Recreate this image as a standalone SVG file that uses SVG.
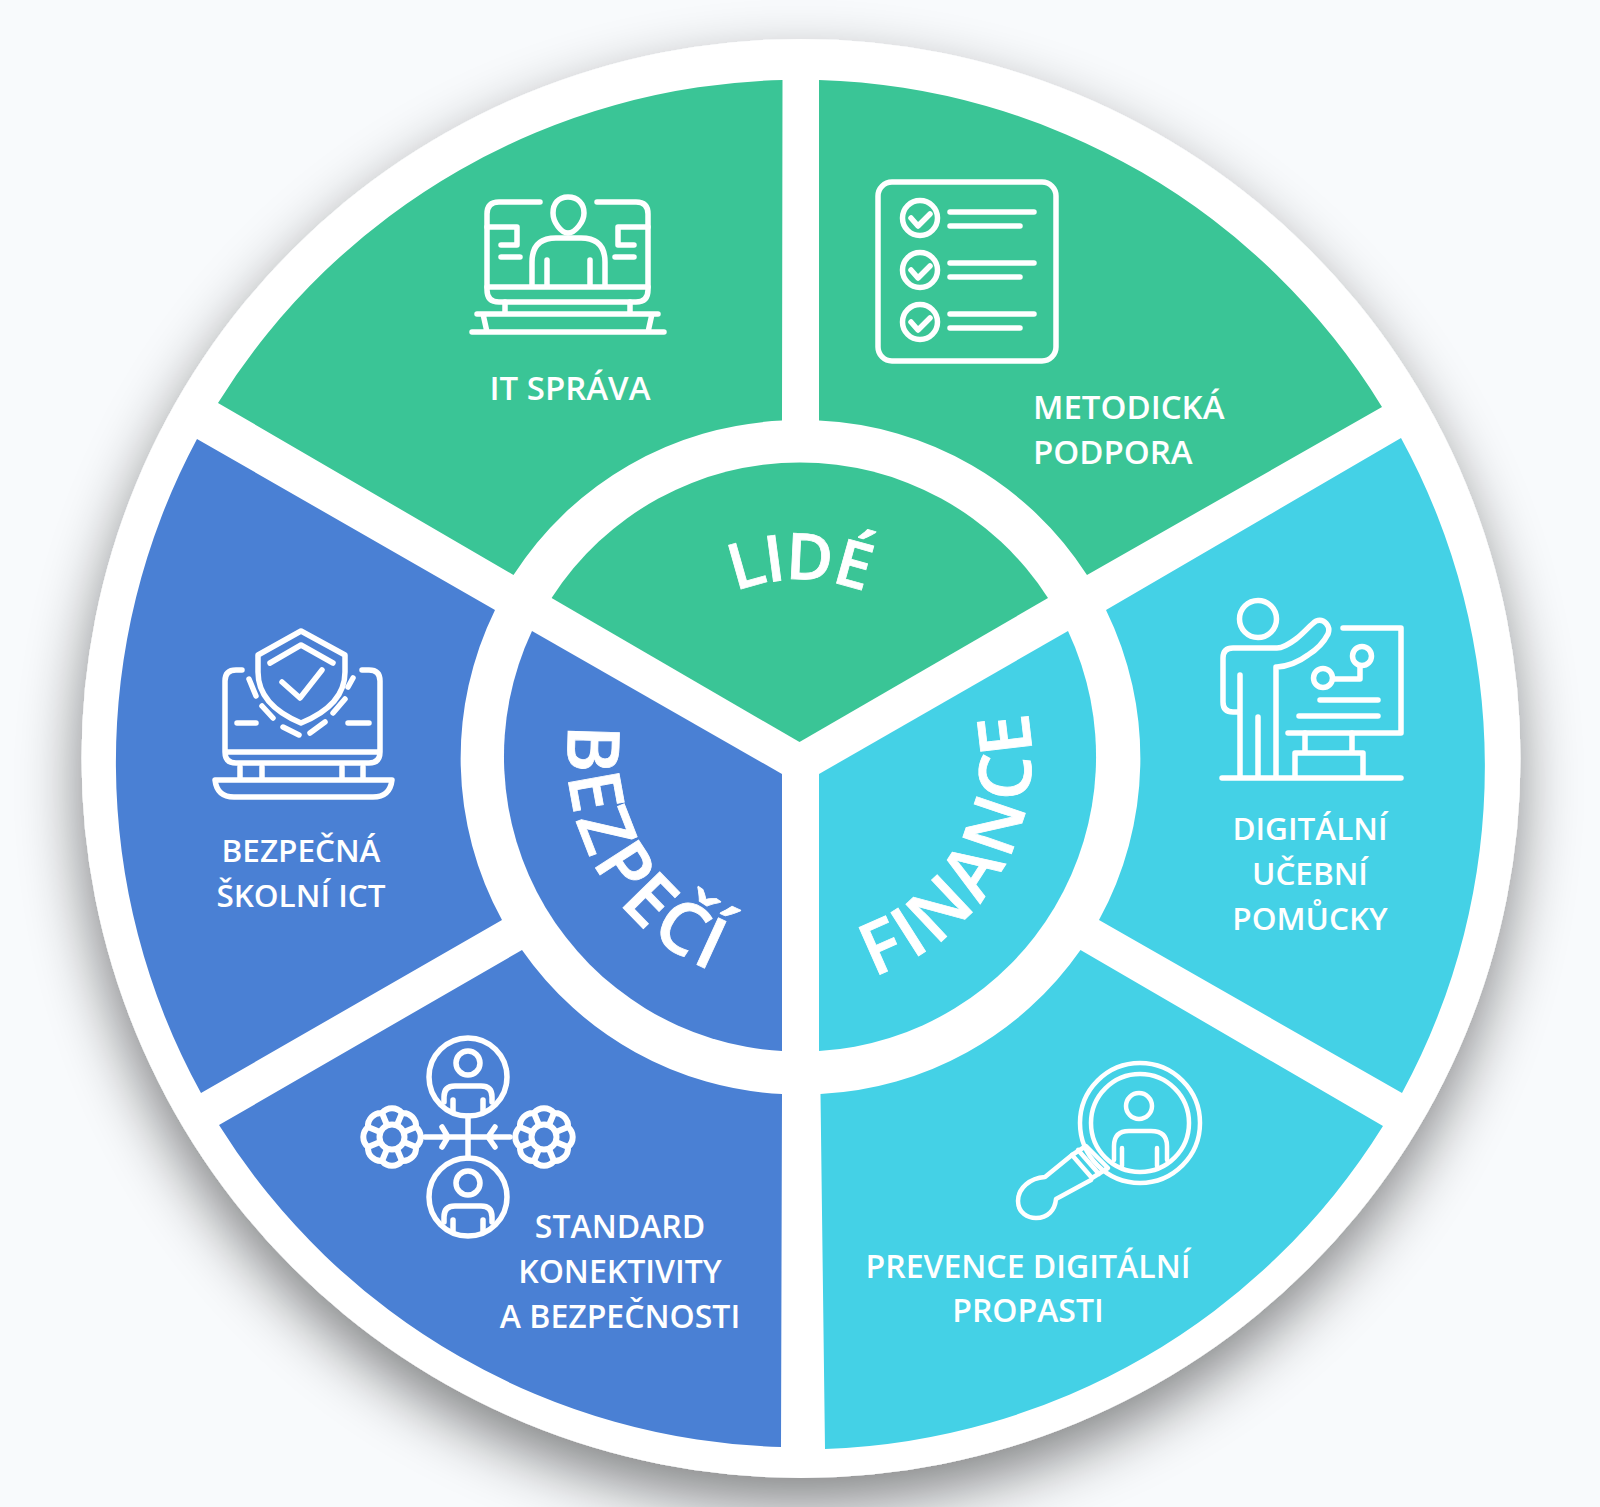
<svg xmlns="http://www.w3.org/2000/svg" xmlns:xlink="http://www.w3.org/1999/xlink" width="1600" height="1507" viewBox="0 0 1600 1507">
<style>
.g{fill:#3AC596}.b{fill:#4A80D4}.c{fill:#44D1E6}
.lab{font-family:"Open Sans","Liberation Sans",sans-serif;font-weight:600;font-size:32px;fill:#fff;text-anchor:middle}
.big{font-size:33px}
.sm{font-size:31.500px}
.lft{text-anchor:start}
.ttl{font-family:"Open Sans","Liberation Sans",sans-serif;font-weight:600;font-size:72px;fill:#fff;stroke:#fff;stroke-width:.8px;text-anchor:middle}
.ic{fill:none;stroke:#fff;stroke-width:5.500;stroke-linecap:round;stroke-linejoin:round}
.th{stroke-width:4.500}
</style>
<defs>
<filter id="sh" x="-15%" y="-15%" width="130%" height="130%">
<feGaussianBlur in="SourceAlpha" stdDeviation="30" result="a"/>
<feOffset in="a" dx="-2" dy="26" result="o"/>
<feFlood flood-color="#000" flood-opacity=".47"/>
<feComposite in2="o" operator="in"/>
<feMerge><feMergeNode/><feMergeNode in="SourceGraphic"/></feMerge>
</filter>
<path id="p-lide" d="M646.2 668A177 177 0 0 1 952.8 668"/>
<path id="p-fin" d="M798.5 988.5A232 232 0 0 0 1000.9 641.4"/>
<path id="p-bez" d="M595.6 645.8A232 232 0 0 0 805.5 988.4"/>
<g id="gear" class="ic" style="stroke-width:6">
<path d="M24 10A13 13 0 0 1 10 24A13 13 0 0 1-10 24A13 13 0 0 1-24 10A13 13 0 0 1-24-10A13 13 0 0 1-10-24A13 13 0 0 1 10-24A13 13 0 0 1 24-10A13 13 0 0 1 24 10Z"/>
<circle r="12.500"/>
<path d="M12 5L24 10M5 12L10 24M-5 12L-10 24M-12 5L-24 10M-12-5L-24-10M-5-12L-10-24M5-12L10-24M12-5L24-10"/>
</g>
<g id="person" class="ic">
<circle cx="468" cy="1063" r="12"/>
<circle cx="468" cy="1077" r="39"/>
<path d="M444 1102V1097Q444 1086 455 1086H481Q492 1086 492 1097V1102M453 1100V1112M483 1100V1112"/>
</g>
</defs>
<rect width="1600" height="1507" fill="#F8FAFC"/>
<circle id="disc" cx="801" cy="758.5" r="719.5" fill="#fff" filter="url(#sh)"/>

<g id="seg-it"><path class="g" d="M782.5 80A685 685 0 0 0 218 403L513.5 575A337 337 0 0 1 782 420.6Z"/>
<g class="ic">
<path d="M540 202H499Q487 202 487 214V290Q487 302 499 302H636Q648 302 648 290V214Q648 202 636 202H597"/>
<path d="M568 197C558 197 553 204 553 213C553 222 561 233 568 233C575 233 584 222 584 213C584 204 578 197 568 197Z"/>
<path d="M532 285V262Q532 238 556 238H581Q605 238 605 262V285M547 260V285M590 260V285M487 287H648"/>
<path d="M487 227H517V245H501M501 257H520M648 227H618V245H634M634 257H615"/>
<path d="M505 302V314M630 302V314M477 314H658M483 314L487 332M652 314L648 332M472 332H664"/>
</g>
<text class="lab big" x="570" y="400">IT SPRÁVA</text></g>

<g id="seg-met"><path class="g" d="M819 80A685 685 0 0 1 1382 407L1087 575A337 337 0 0 0 819 420.6Z"/>
<g class="ic">
<rect x="878" y="182" width="178" height="179" rx="14"/>
<circle cx="920" cy="218" r="17.500"/><circle cx="920" cy="270" r="17.500"/><circle cx="920" cy="322" r="17.500"/>
<path d="M911 218L918 226L930 214M911 270L918 278L930 266M911 322L918 330L930 318"/>
<path d="M950 212H1034M950 226H1020M950 263H1034M950 277H1020M950 314H1034M950 328H1020"/>
</g>
<text class="lab lft big" x="1033" y="419">METODICKÁ</text><text class="lab lft big" x="1033" y="464">PODPORA</text></g>

<g id="seg-dig"><path class="c" d="M1401 438A685 685 0 0 1 1402 1093L1099 920A337 337 0 0 0 1106 610Z"/>
<g class="ic">
<circle cx="1258" cy="619" r="18.500"/>
<path d="M1240 675V777M1258 717V777M1276 777V667H1277C1290 666 1300 661 1308 655C1316 650 1324 642 1328 634C1331 626 1324 618 1316 621C1310 625 1305 632 1296 639C1288 645 1282 648 1277 648H1233Q1223 648 1223 658V702Q1223 712 1233 712H1240"/>
<path d="M1343 628H1401V733H1288"/>
<circle cx="1362" cy="656" r="9.500"/><circle cx="1323" cy="678" r="9.500"/>
<path d="M1333 679H1360V667M1320 700H1378M1299 716H1378M1305 733V753M1352 733V753M1295 778V753H1363V778M1222 778H1401"/>
</g>
<text class="lab sm" x="1310" y="840">DIGITÁLNÍ</text><text class="lab sm" x="1310" y="885">UČEBNÍ</text><text class="lab sm" x="1310" y="930">POMŮCKY</text></g>

<g id="seg-prev"><path class="c" d="M1383 1126A685 685 0 0 1 825 1449L820.5 1094A337 337 0 0 0 1080.5 950Z"/>
<g class="ic th">
<circle cx="1140" cy="1123" r="60"/><circle cx="1140" cy="1123" r="49"/>
<circle cx="1139" cy="1106" r="13"/>
<path d="M1114 1160V1146Q1114 1131 1129 1131H1151Q1167 1131 1167 1146V1160M1122 1148V1166M1157 1148V1166"/>
<path d="M1072 1155L1045 1177C1030 1178 1018 1188 1018 1201C1018 1213 1028 1218 1036 1218C1048 1218 1055 1210 1056 1199L1091 1180"/>
<path d="M1072 1155L1092 1178M1072 1155L1086 1146L1108 1168L1092 1178M1078 1150L1099 1174"/>
</g>
<text class="lab" x="1028" y="1278">PREVENCE DIGITÁLNÍ</text><text class="lab" x="1028" y="1322">PROPASTI</text></g>

<g id="seg-std"><path class="b" d="M781 1447A685 685 0 0 1 219 1125L522 950A337 337 0 0 0 782 1094Z"/>
<use href="#person" xlink:href="#person"/>
<use href="#person" xlink:href="#person" y="120"/>
<use href="#gear" xlink:href="#gear" x="392" y="1137"/>
<use href="#gear" xlink:href="#gear" x="544" y="1137"/>
<path class="ic" d="M468 1116V1158M425 1137H510M442 1127L448 1137L442 1147M495 1127L488 1137L495 1147"/>
<text class="lab" x="620" y="1238">STANDARD</text><text class="lab" x="620" y="1283">KONEKTIVITY</text><text class="lab" x="620" y="1328">A BEZPEČNOSTI</text></g>

<g id="seg-bez"><path class="b" d="M201 1093A685 685 0 0 1 197 439L495 610A337 337 0 0 0 502 920Z"/>
<g class="ic">
<path d="M242 670H236Q225 670 225 681V752Q225 763 236 763H369Q380 763 380 752V681Q380 670 369 670H362M225 752H380"/>
<path d="M240 767V778M262 767V778M342 767V778M363 767V778"/>
<path d="M215 780H392Q390 797 373 797H234Q217 797 215 780Z"/>
<path d="M301 631L345 655V672Q345 705 301 723Q258 705 258 672V655Z"/>
<path d="M270 663L301 645L333 663M282 682L300 698L322 670"/>
<path d="M249 679L256 696M262 706L273 718M283 727L299 735M310 733L325 722M333 713L345 699M348 687L353 678M237 723H256M348 723H369"/>
</g>
<text class="lab sm" x="301" y="862">BEZPEČNÁ</text><text class="lab sm" x="301" y="907">ŠKOLNÍ ICT</text></g>

<g id="hub-lide"><path class="g" d="M799.500 742L1048 598A295 295 0 0 0 551.600 598Z"/>
<text class="ttl" style="font-size:64px;letter-spacing:-1.500px"><textPath href="#p-lide" xlink:href="#p-lide" startOffset="50%">LIDÉ</textPath></text></g>
<g id="hub-fin"><path class="c" d="M819 774L1068 631A295 295 0 0 1 819 1051Z"/>
<text class="ttl" style="letter-spacing:4.500px"><textPath href="#p-fin" xlink:href="#p-fin" startOffset="50.500%">FINANCE</textPath></text></g>
<g id="hub-bez"><path class="b" d="M782 774L532 631A295 295 0 0 0 782 1051Z"/>
<text class="ttl" style="letter-spacing:4px"><textPath href="#p-bez" xlink:href="#p-bez" startOffset="49%">BEZPEČÍ</textPath></text></g>
</svg>
